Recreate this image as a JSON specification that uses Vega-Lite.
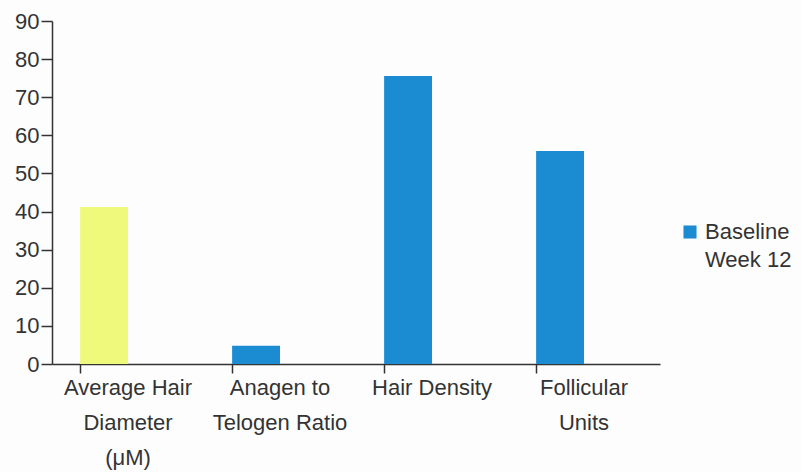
{
  "$schema": "https://vega.github.io/schema/vega-lite/v6.json",
  "autosize": "none",
  "width": 608,
  "height": 343,
  "padding": {"left": 52, "top": 21, "right": 141, "bottom": 108},
  "background": "#fdfdfd",
  "data": {
    "values": [
      {"category": "Average Hair Diameter (μM)", "series": "Baseline", "value": 41.2},
      {"category": "Average Hair Diameter (μM)", "series": "Week 12", "value": 0},
      {"category": "Anagen to Telogen Ratio", "series": "Baseline", "value": 4.8},
      {"category": "Anagen to Telogen Ratio", "series": "Week 12", "value": 0},
      {"category": "Hair Density", "series": "Baseline", "value": 75.6},
      {"category": "Hair Density", "series": "Week 12", "value": 0},
      {"category": "Follicular Units", "series": "Baseline", "value": 55.9},
      {"category": "Follicular Units", "series": "Week 12", "value": 0}
    ]
  },
  "mark": {"type": "bar"},
  "encoding": {
    "x": {
      "field": "category",
      "type": "nominal",
      "sort": null,
      "scale": {"paddingInner": 0.37, "paddingOuter": 0.185},
      "axis": {
        "title": null,
        "labelAngle": 0,
        "labelFont": "Liberation Sans",
        "labelFontSize": 22,
        "labelColor": "#333333",
        "labelLineHeight": 35,
        "labelPadding": 4,
        "labelBaseline": "top",
        "labelLimit": 0,
        "bandPosition": 0,
        "tickSize": 9,
        "tickColor": "#333333",
        "tickWidth": 1.5,
        "domainColor": "#333333",
        "domainWidth": 1.5,
        "labelExpr": "datum.value == 'Average Hair Diameter (μM)' ? ['Average Hair', 'Diameter', '(μM)'] : datum.value == 'Anagen to Telogen Ratio' ? ['Anagen to', 'Telogen Ratio'] : datum.value == 'Follicular Units' ? ['Follicular', 'Units'] : datum.value"
      }
    },
    "xOffset": {"field": "series", "type": "nominal", "scale": {"paddingInner": 0, "paddingOuter": 0}},
    "y": {
      "field": "value",
      "type": "quantitative",
      "scale": {"domain": [0, 90]},
      "axis": {
        "title": null,
        "values": [0, 10, 20, 30, 40, 50, 60, 70, 80, 90],
        "grid": false,
        "labelFont": "Liberation Sans",
        "labelFontSize": 22,
        "labelColor": "#333333",
        "labelPadding": 2,
        "tickSize": 11,
        "tickColor": "#333333",
        "tickWidth": 1.5,
        "domainColor": "#333333",
        "domainWidth": 1.5
      }
    },
    "color": {
      "condition": {
        "test": "datum.category == 'Average Hair Diameter (μM)' && datum.series == 'Baseline'",
        "value": "#eff97c"
      },
      "field": "series",
      "type": "nominal",
      "scale": {"domain": ["Baseline", "Week 12"], "range": ["#1b8bd2", "#fdfdfd"]},
      "legend": {
        "title": null,
        "orient": "none",
        "legendX": 627,
        "legendY": 200,
        "symbolType": "square",
        "symbolSize": 170,
        "symbolStrokeWidth": 0,
        "labelFont": "Liberation Sans",
        "labelFontSize": 22,
        "labelColor": "#333333",
        "rowPadding": 6,
        "labelOffset": 4
      }
    }
  },
  "config": {"view": {"stroke": null}}
}
